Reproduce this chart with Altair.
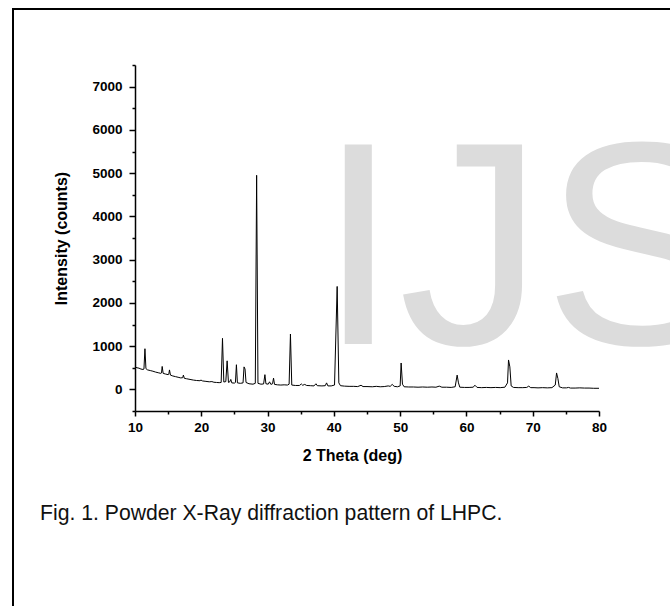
import altair as alt
import pandas as pd

# ---- data ----
two_theta = [
    10.0, 10.3, 10.6, 10.9, 11.2, 11.35, 11.5, 11.65, 11.9, 12.3, 12.7, 13.1, 13.5, 13.9, 14.0, 14.1, 14.25,
    14.6, 15.0, 15.1, 15.2, 15.35, 15.7, 16.1, 16.5, 16.9, 17.2, 17.3, 17.45, 17.8, 18.3, 18.8, 19.3, 19.8,
    19.95, 20.2, 20.7, 21.2, 21.6, 21.9, 22.3, 22.7, 23.0, 23.2, 23.4, 23.7, 23.9, 24.1, 24.3, 24.45, 24.6,
    25.0, 25.15, 25.3, 25.45, 25.9, 26.3, 26.45, 26.6, 26.75, 27.2, 27.8, 28.15, 28.35, 28.55, 29.0, 29.4,
    29.6, 29.75, 30.1, 30.3, 30.5, 30.75, 30.9, 31.05, 31.5, 32.0, 32.5, 33.0, 33.25, 33.45, 33.65, 34.2,
    34.8, 35.1, 35.3, 35.6, 35.9, 36.5, 37.0, 37.3, 37.5, 38.2, 38.7, 38.9, 39.1, 39.6, 40.1, 40.5, 40.75,
    41.0, 41.6, 42.3, 43.0, 43.6, 44.1, 44.4, 45.0, 45.8, 46.4, 47.0, 47.6, 48.2, 48.5, 48.8, 49.1, 49.6,
    50.0, 50.15, 50.35, 50.6, 51.3, 52.0, 52.7, 53.4, 54.1, 54.8, 55.4, 55.9, 56.3, 57.0, 57.7, 58.3, 58.6,
    58.8, 59.0, 59.7, 60.4, 61.0, 61.3, 61.6, 62.3, 63.0, 63.7, 64.4, 65.1, 65.8, 66.2, 66.35, 66.55, 66.75,
    67.1, 67.8, 68.5, 69.1, 69.4, 69.7, 70.2, 70.8, 71.5, 72.2, 72.9, 73.4, 73.6, 73.8, 74.0, 74.5, 75.1,
    75.4, 75.7, 76.4, 77.1, 77.8, 78.5, 79.2, 80.0,
]
intensity = [
    520, 500, 490, 470, 460, 470, 940, 480, 450, 435, 420, 400, 385, 370, 380, 530, 370,
    355, 340, 350, 450, 330, 310, 295, 280, 265, 270, 330, 255, 245, 230, 215, 205, 200,
    215, 195, 185, 175, 180, 165, 160, 155, 160, 1180, 170, 180, 660, 160, 175, 230, 150,
    145, 160, 570, 150, 140, 150, 520, 470, 160, 130, 120, 140, 4950, 140, 120, 125,
    340, 130, 120, 175, 115, 130, 260, 115, 105, 100, 105, 100, 120, 1280, 100, 90,
    90, 125, 95, 115, 90, 85, 80, 130, 85, 80, 85, 150, 80, 80, 100, 2380, 150,
    85, 75, 70, 70, 65, 95, 65, 65, 60, 70, 60, 65, 80, 70, 115, 70, 60,
    80, 610, 120, 60, 55, 55, 50, 55, 50, 55, 50, 75, 50, 50, 45, 60, 330,
    150, 50, 45, 45, 50, 95, 45, 40, 45, 40, 45, 40, 50, 150, 680, 520, 80,
    45, 40, 40, 45, 75, 40, 40, 35, 40, 35, 40, 100, 380, 250, 60, 35, 35,
    45, 30, 30, 35, 30, 30, 25, 25,
]
x_ticks = [10, 15, 20, 25, 30, 35, 40, 45, 50, 55, 60, 65, 70, 75, 80]
y_ticks = [-500, 0, 500, 1000, 1500, 2000, 2500, 3000, 3500, 4000, 4500, 5000, 5500, 6000, 6500, 7000, 7500]
x_title = "2 Theta (deg)"
y_title = "Intensity (counts)"
caption = ["Fig. 1. Powder X-Ray diffraction pattern of LHPC."]
watermark = ["IJS"]

FONT = "Liberation Sans"
W, H = 464, 346
PAD_L, PAD_T = 135, 65

df = pd.DataFrame({"two_theta": two_theta, "intensity": intensity})

x_axis = alt.Axis(
    values=x_ticks,
    labelExpr="datum.value % 10 === 0 ? datum.label : ''",
    tickSize={"condition": {"test": "datum.value % 10 === 0", "value": 5}, "value": 3},
    labelPadding=4,
    title=x_title,
    titleX=217,
    titleY=49,
    titleAlign="center",
    titleBaseline="alphabetic",
)
y_axis = alt.Axis(
    values=y_ticks,
    format="d",
    labelExpr="datum.value % 1000 === 0 && datum.value >= 0 && datum.value <= 7000 ? datum.label : ''",
    tickSize={"condition": {"test": "datum.value % 1000 === 0", "value": 6}, "value": 3},
    labelPadding=7,
    title=y_title,
    titleX=-69,
    titleY=H / 2,
    titleAlign="center",
    titleBaseline="alphabetic",
)

line = alt.Chart(df).mark_line(color="black", strokeWidth=1).encode(
    x=alt.X("two_theta:Q", scale=alt.Scale(domain=[10, 80], nice=False, zero=False), axis=x_axis),
    y=alt.Y("intensity:Q", scale=alt.Scale(domain=[-500, 7500], nice=False), axis=y_axis),
)

wm = alt.Chart(pd.DataFrame({"t": watermark})).mark_text(
    font=FONT, fontSize=290, color="#dcdcdc", align="left", baseline="alphabetic"
).encode(text="t:N", x=alt.value(318 - PAD_L), y=alt.value(344 - PAD_T))

cap = alt.Chart(pd.DataFrame({"t": caption})).mark_text(
    font=FONT, fontSize=21.2, color="#111111", align="left", baseline="middle"
).encode(text="t:N", x=alt.value(40 - PAD_L), y=alt.value(514 - PAD_T))

frame_left = alt.Chart(pd.DataFrame({"a": [0]})).mark_rule(color="black", strokeWidth=2).encode(
    x=alt.value(13 - PAD_L), y=alt.value(8 - PAD_T), y2=alt.value(606 - PAD_T)
)
frame_top = alt.Chart(pd.DataFrame({"a": [0]})).mark_rule(color="black", strokeWidth=2).encode(
    x=alt.value(12 - PAD_L), x2=alt.value(670 - PAD_L), y=alt.value(9 - PAD_T)
)

chart = alt.layer(wm, line, cap, frame_left, frame_top).properties(
    width=W,
    height=H,
    autosize=alt.AutoSizeParams(type="none"),
    padding={"left": PAD_L, "top": PAD_T, "right": 670 - PAD_L - W, "bottom": 606 - PAD_T - H},
    background="white",
).configure_view(stroke=None).configure_axis(
    grid=False,
    domainColor="black",
    domainWidth=1.5,
    tickColor="black",
    tickWidth=1.5,
    labelFont=FONT,
    labelFontWeight="bold",
    labelFontSize=13.5,
    labelColor="black",
    labelFlush=False,
    labelOverlap=False,
    labelBound=False,
    titleFont=FONT,
    titleFontWeight="bold",
    titleFontSize=16,
    titleColor="black",
)

chart.save("out.html", embed_options={"renderer": "svg", "actions": False})
